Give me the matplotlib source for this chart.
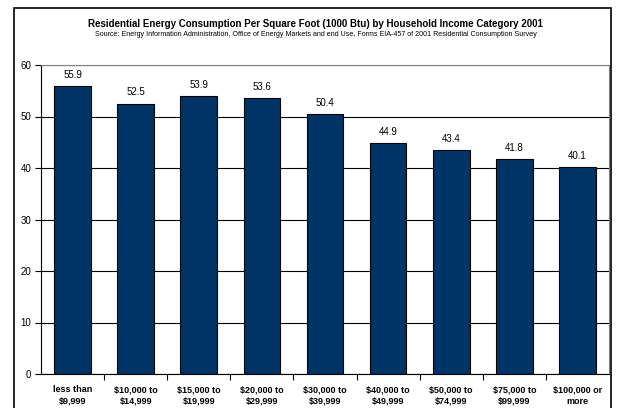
import matplotlib.pyplot as plt
from matplotlib.patches import Rectangle

# income categories and consumption values
categories = ['less than\n$9,999', '$10,000 to\n$14,999', '$15,000 to\n$19,999',
              '$20,000 to\n$29,999', '$30,000 to\n$39,999', '$40,000 to\n$49,999',
              '$50,000 to\n$74,999', '$75,000 to\n$99,999', '$100,000 or\nmore']
values = [55.9, 52.5, 53.9, 53.6, 50.4, 44.9, 43.4, 41.8, 40.1]
yticks = [0, 10, 20, 30, 40, 50, 60]

plt.rcParams['font.family'] = ['Liberation Sans', 'DejaVu Sans']

fig = plt.figure(figsize=(6.18, 4.08), dpi=100)
ax = fig.add_axes([41/618, 1 - 374/408, (609 - 41)/618, (374 - 65)/408])

# outer frame around the chart
fig.patches.append(Rectangle((14/618, -0.02), (611 - 14)/618, 1.0 - 8/408 + 0.02,
                             transform=fig.transFigure, fill=False,
                             edgecolor='black', linewidth=1.2))

x = range(len(values))
ax.bar(x, values, width=0.58, color='#003366', edgecolor='black', linewidth=0.8, zorder=3)
for i, v in enumerate(values):
    ax.text(i, v + 1.2, f'{v:.1f}', ha='center', va='bottom', fontsize=7)

ax.set_ylim(0, 60)
ax.set_xlim(-0.5, len(values) - 0.5)
ax.set_yticks(yticks)
ax.yaxis.grid(True, color='black', linewidth=0.8, zorder=0)
ax.tick_params(axis='y', labelsize=7, length=4, width=0.8, direction='out', pad=3)

# tick marks between categories, labels centred under bars
ax.set_xticks([i + 0.5 for i in range(len(values) - 1)], minor=False)
ax.set_xticklabels([])
ax.tick_params(axis='x', length=4, width=0.8, direction='out')
ax.set_xticks(list(x), minor=True)
ax.set_xticklabels(categories, minor=True, fontsize=6.5, fontweight='bold', linespacing=1.35)
ax.tick_params(axis='x', which='minor', length=0, pad=8)

for s in ['top', 'right']:
    ax.spines[s].set_color('#808080')
ax.spines['left'].set_color('black')
ax.spines['bottom'].set_color('black')

fig.text(315/618, 1 - 24/408, 'Residential Energy Consumption Per Square Foot (1000 Btu) by Household Income Category 2001',
         ha='center', va='center', fontsize=7.0, fontweight='bold')
fig.text(316/618, 1 - 35/408, 'Source: Energy Information Administration, Office of Energy Markets and end Use, Forms EIA-457 of 2001 Residential Consumption Survey',
         ha='center', va='center', fontsize=5.1)

fig.savefig('out.png', dpi=100)
